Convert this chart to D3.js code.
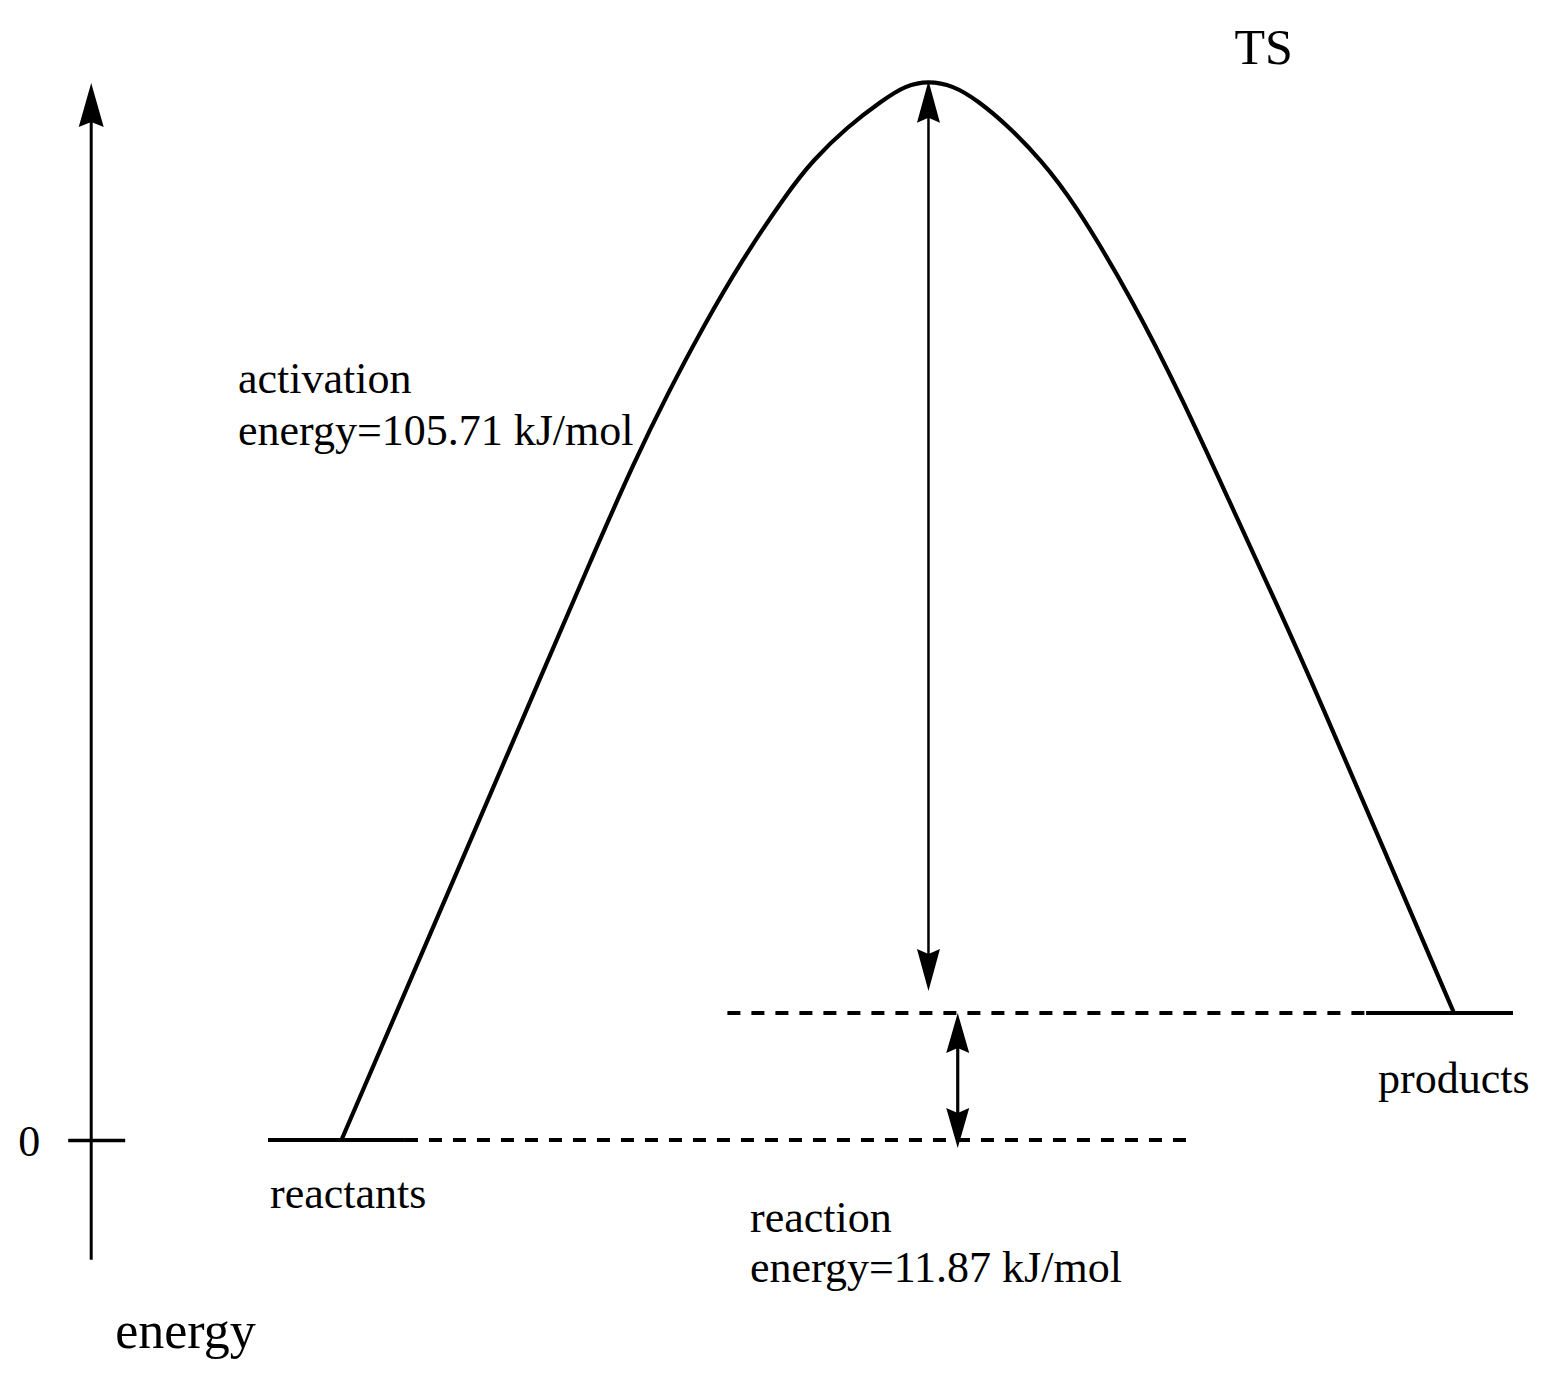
<!DOCTYPE html>
<html>
<head>
<meta charset="utf-8">
<script src="https://cdn.jsdelivr.net/npm/d3@7"></script>
<style>
  html, body { margin: 0; padding: 0; background: #fff; }
  svg { display: block; }
  text { font-family: "Liberation Serif", "Times New Roman", serif; fill: #000; }
</style>
</head>
<body>
<div id="chart"></div>
<script>
////////////////////////////////////////////////////////////////////////////////////////
// data (energies in kJ/mol, reaction coordinate 0..100)
////////////////////////////////////////////////////////////////////////////////////////
var levelNames  = ["reactants", "products"];
var levelEnergy = [0, 11.87];
var tsEnergy = 99.0;      // drawn height of TS
var tsCoord = 53.05;

// energy profile, reactants -> TS -> products
var pathCoord  = [5.9, 14.31, 22.63, 25.94, 29.48, 32.13, 34.94, 38.07, 41.69, 43.78, 46.51, 49.4, 51.2,
                  53.05,
                  55.02, 56.95, 59.55, 62.07, 64.64, 69.46, 73.48, 77.17, 80.87, 84.48, 89.85, 95.26];
var pathEnergy = [0, 22.71, 45.24, 54.21, 63.56, 69.82, 75.99, 82.25, 88.51, 91.6, 94.68, 97.21, 98.56,
                  99.0,
                  98.56, 97.21, 94.68, 91.6, 87.86, 78.51, 69.17, 59.82, 50.47, 41.13, 26.54, 11.87];

// level lines: solid part and dashed guide part
var levelSolid  = [[0, 11.0], [88.2, 100]];
var levelDashed = [[11.0, 73.8], [36.9, 88.2]];

var reactionArrowCoord = 55.4;
var axisCoord = -14.2;
var axisEnergyRange = [-11.2, 98.8];
var axisTicks = [0];

var activationLabel = ["activation", "energy=105.71 kJ/mol"];
var reactionLabel   = ["reaction", "energy=11.87 kJ/mol"];
var tsLabel = "TS";
var axisLabel = "energy";

////////////////////////////////////////////////////////////////////////////////////////
// scales
////////////////////////////////////////////////////////////////////////////////////////
var width = 1547, height = 1379;

var x = d3.scaleLinear().domain([0, 100]).range([268, 1513]);
var y = d3.scaleLinear().domain([0, 11.87]).range([1140, 1013]);

var svg = d3.select("#chart").append("svg")
	.attr("width", width)
	.attr("height", height)
	.attr("viewBox", [0, 0, width, height]);

// arrow head with a small notch at the back; dir = 1 points up, -1 points down
function arrowHead(tx, ty, dir, len, hw, notch) {
	var by = ty + dir * len;
	return "M" + tx + "," + ty +
		"L" + (tx - hw) + "," + by +
		"L" + tx + "," + (ty + dir * (len - notch)) +
		"L" + (tx + hw) + "," + by + "Z";
}

////////////////////////////////////////////////////////////////////////////////////////
// energy axis
////////////////////////////////////////////////////////////////////////////////////////
var yAxisScale = y.copy().domain(axisEnergyRange).range(axisEnergyRange.map(y));
var ax = x(axisCoord);

var axisG = svg.append("g")
	.attr("transform", "translate(" + ax + ",0)")
	.call(d3.axisLeft(yAxisScale).tickValues(axisTicks).tickSize(23).tickPadding(28).tickFormat(d3.format("d")));
axisG.select(".domain").remove();
axisG.selectAll(".tick line")
	.attr("x1", 34)
	.attr("stroke", "#000")
	.attr("stroke-width", 3.5);
axisG.selectAll(".tick text")
	.attr("font-family", "Liberation Serif, Times New Roman, serif")
	.attr("font-size", 44)
	.attr("dy", "0.36em")
	.attr("fill", "#000");

var axTop = yAxisScale(axisEnergyRange[1]);
svg.append("line")
	.attr("x1", ax).attr("x2", ax)
	.attr("y1", yAxisScale(axisEnergyRange[0]))
	.attr("y2", axTop + 38)
	.attr("stroke", "#000")
	.attr("stroke-width", 3);
svg.append("path")
	.attr("d", arrowHead(ax, axTop, 1, 44, 12.5, 5));

svg.append("text")
	.attr("x", ax + 24)
	.attr("y", yAxisScale(axisEnergyRange[0]) + 88)
	.attr("font-size", 52)
	.text(axisLabel);

////////////////////////////////////////////////////////////////////////////////////////
// levels
////////////////////////////////////////////////////////////////////////////////////////
svg.selectAll(".level-solid")
	.data(levelEnergy)
	.join("line")
	.attr("class", "level-solid")
	.attr("x1", function (d, i) { return x(levelSolid[i][0]); })
	.attr("x2", function (d, i) { return x(levelSolid[i][1]); })
	.attr("y1", function (d) { return y(d); })
	.attr("y2", function (d) { return y(d); })
	.attr("stroke", "#000")
	.attr("stroke-width", 4);

svg.selectAll(".level-dash")
	.data(levelEnergy)
	.join("line")
	.attr("class", "level-dash")
	.attr("x1", function (d, i) { return x(levelDashed[i][0]); })
	.attr("x2", function (d, i) { return x(levelDashed[i][1]); })
	.attr("y1", function (d) { return y(d); })
	.attr("y2", function (d) { return y(d); })
	.attr("stroke", "#000")
	.attr("stroke-width", 4)
	.attr("stroke-dasharray", "13,11");

////////////////////////////////////////////////////////////////////////////////////////
// energy profile
////////////////////////////////////////////////////////////////////////////////////////
var line = d3.line()
	.x(function (d, i) { return x(pathCoord[i]); })
	.y(function (d) { return y(d); })
	.curve(d3.curveBasis);

svg.append("path")
	.attr("d", line(pathEnergy))
	.attr("fill", "none")
	.attr("stroke", "#000")
	.attr("stroke-width", 4.2)
	.attr("stroke-linejoin", "round");

////////////////////////////////////////////////////////////////////////////////////////
// activation energy arrow (TS -> products level)
////////////////////////////////////////////////////////////////////////////////////////
var actX = x(tsCoord);
var actTop = y(tsEnergy);
var actBottom = y(levelEnergy[1]) - 22;
svg.append("line")
	.attr("x1", actX).attr("x2", actX)
	.attr("y1", actTop + 36).attr("y2", actBottom - 36)
	.attr("stroke", "#000")
	.attr("stroke-width", 2.5);
svg.append("path").attr("d", arrowHead(actX, actTop, 1, 42, 11.5, 5));
svg.append("path").attr("d", arrowHead(actX, actBottom, -1, 42, 11.5, 5));

////////////////////////////////////////////////////////////////////////////////////////
// reaction energy arrow (products level -> reactants level)
////////////////////////////////////////////////////////////////////////////////////////
var rxX = x(reactionArrowCoord);
var rxTop = y(levelEnergy[1]);
var rxBottom = y(levelEnergy[0]) + 8;
svg.append("line")
	.attr("x1", rxX).attr("x2", rxX)
	.attr("y1", rxTop + 35).attr("y2", rxBottom - 35)
	.attr("stroke", "#000")
	.attr("stroke-width", 3.2);
svg.append("path").attr("d", arrowHead(rxX, rxTop, 1, 40, 11.5, 5));
svg.append("path").attr("d", arrowHead(rxX, rxBottom, -1, 40, 11.5, 5));

////////////////////////////////////////////////////////////////////////////////////////
// labels
////////////////////////////////////////////////////////////////////////////////////////
svg.append("text")
	.attr("x", x(levelSolid[0][0]) + 2)
	.attr("y", y(levelEnergy[0]) + 68)
	.attr("font-size", 44)
	.text(levelNames[0]);

svg.append("text")
	.attr("x", x(levelSolid[1][0]) + 12)
	.attr("y", y(levelEnergy[1]) + 80)
	.attr("font-size", 44)
	.text(levelNames[1]);

svg.append("text")
	.attr("x", actX + 306)
	.attr("y", actTop - 17)
	.attr("font-size", 50)
	.text(tsLabel);

svg.selectAll(".act-label")
	.data(activationLabel)
	.join("text")
	.attr("class", "act-label")
	.attr("x", 238)
	.attr("y", function (d, i) { return 393 + i * 52; })
	.attr("font-size", 44)
	.text(function (d) { return d; });

svg.selectAll(".rx-label")
	.data(reactionLabel)
	.join("text")
	.attr("class", "rx-label")
	.attr("x", 750)
	.attr("y", function (d, i) { return y(levelEnergy[0]) + 92 + i * 50; })
	.attr("font-size", 44)
	.text(function (d) { return d; });
</script>
</body>
</html>
